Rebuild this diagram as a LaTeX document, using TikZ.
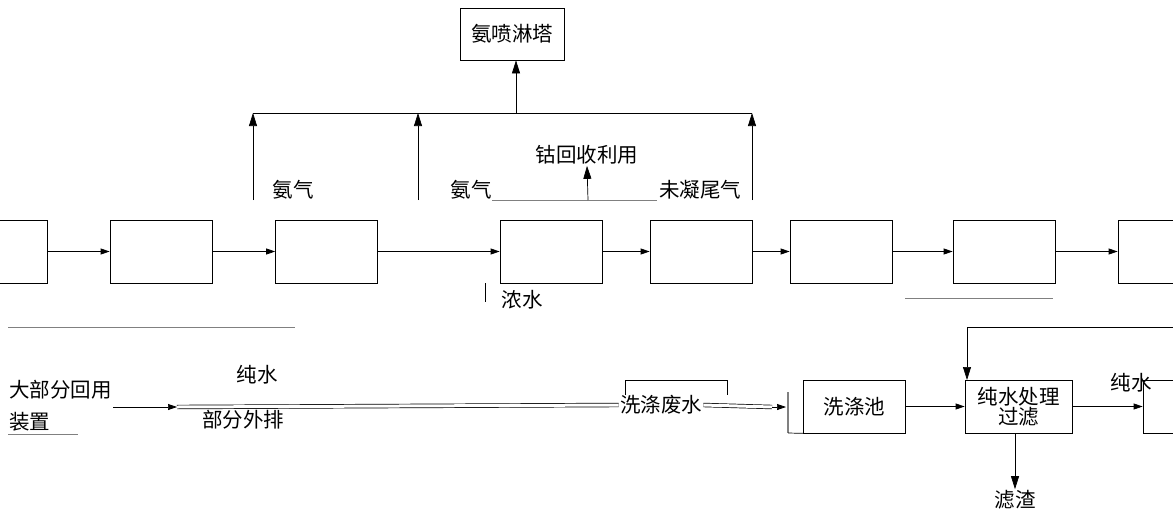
\documentclass[tikz,border=0pt]{standalone}
\usepackage{fontspec}
\newfontfamily\cjk{Noto Sans CJK SC}
\usetikzlibrary{arrows.meta}
\begin{document}
\begin{tikzpicture}[x=1pt,y=-1pt,
 line width=0.7pt,
 txt/.style={font=\cjk\fontsize{20.5}{24}\selectfont, inner sep=1pt},
 box/.style={draw, txt, minimum width=102pt, minimum height=53pt, align=center},
 ebox/.style={draw, minimum width=102pt, minimum height=63pt, inner sep=0pt},
 arr/.style={-{Triangle[length=13pt,width=8pt]}},
 sarr/.style={-{Triangle[length=9pt,width=6pt]}},
 faint/.style={draw=gray, line width=0.6pt},
 dbl/.style={double, double distance=3pt, line width=0.7pt}
]
\useasboundingbox (0,0) rectangle (1173,517);

% ---- top part
\node[box, minimum width=104pt, minimum height=52pt] (tower) at (512,34) {氨喷淋塔};
\coordinate (jl) at (253,113);
\coordinate (jm) at (418,113);
\coordinate (jc) at (516,113);
\coordinate (jr) at (752,113);
\draw (jl) -- (jr);
\draw[arr] (jc) -- (jc |- tower.south);
\coordinate (g1) at (253,200);
\coordinate (g2) at (418,200);
\coordinate (g3) at (752,200);
\draw[arr] (g1) -- (jl);
\draw[arr] (g2) -- (jm);
\draw[arr] (g3) -- (jr);
\node[txt] (n1) at (293,190) {氨气};
\node[txt] (n2) at (471,190) {氨气};
\node[txt] (n3) at (700,190) {未凝尾气};
\node[txt] (co) at (587,155) {钴回收利用};
\coordinate (c1) at (492,200);
\coordinate (c2) at (657,200);
\coordinate (c3) at (588,200);
\draw[faint] (c1) -- (c2);
\draw[arr] (c3) -- (co.south);

% ---- middle band
\node[ebox] (b1) at (-4,251.5) {};
\node[ebox] (b2) at (161,251.5) {};
\node[ebox] (b3) at (326.5,251.5) {};
\node[ebox] (b4) at (551,251.5) {};
\node[ebox] (b5) at (701,251.5) {};
\node[ebox] (b6) at (841,251.5) {};
\node[ebox] (b7) at (1004,251.5) {};
\node[ebox] (b8) at (1169,251.5) {};
\draw[sarr] (b1.east) -- (b2.west);
\draw[sarr] (b2.east) -- (b3.west);
\draw[sarr] (b3.east) -- (b4.west);
\draw[sarr] (b4.east) -- (b5.west);
\draw[sarr] (b5.east) -- (b6.west);
\draw[sarr] (b6.east) -- (b7.west);
\draw[sarr] (b7.east) -- (b8.west);
\coordinate (w1) at (485,283);
\coordinate (w2) at (485,302);
\draw (w1) -- (w2);
\node[txt] (nw) at (522,300) {浓水};
\coordinate (l1a) at (8,327);
\coordinate (l1b) at (295,327);
\draw[faint] (l1a) -- (l1b);
\coordinate (l2a) at (905,298);
\coordinate (l2b) at (1053,298);
\draw[faint] (l2a) -- (l2b);

% ---- bottom row
\node[txt, anchor=west, align=left] (reuse) at (8,406) {大部分回用\\[8pt]装置};
\coordinate (u1) at (8,434);
\coordinate (u2) at (78,434);
\draw[faint] (u1) -- (u2);
\coordinate (p1) at (177,407);
\draw[sarr] (reuse.east |- p1) -- (p1);
\node[txt] (pw) at (257,375) {纯水};
\node[txt] (px) at (243,420) {部分外排};
\node[txt, fill=white] (waste) at (661,405) {洗涤废水};
\draw (625,395) -- (625,380) -- (727,380) -- (727,395);
\draw[dbl] (p1) -- (waste.west);
\node[box] (pool) at (854.5,406.5) {洗涤池};
\coordinate (pb1) at (788,392);
\coordinate (pb2) at (788,433);
\draw[draw=gray, line width=2pt] (pb1) -- (pb2);
\draw (pb2) -- (pool.south west);
\coordinate (p2) at (772,407);
\draw[dbl] (waste.east) -- (p2);
\draw[sarr] (p2) -- (786,407);
\node[box, minimum width=107pt, font=\cjk\fontsize{20.5}{20}\selectfont] (pure) at (1018.5,406.5) {纯水处理\\过滤};
\draw[sarr] (pool.east) -- (pure.west);
\node[txt] (res) at (1015,500) {滤渣};
\draw[arr] (res.north |- pure.south) -- (res.north);
\node[ebox, minimum height=53pt] (b9) at (1194,406.5) {};
\draw[sarr] (pure.east) -- (b9.west);
\node[txt] (pw2) at (1131,383) {纯水};
\coordinate (f1) at (1180,327);
\coordinate (f2) at (967,327);
\coordinate (f3) at (967,380);
\draw[arr] (f1) -- (f2) -- (f3);
\end{tikzpicture}
\end{document}
